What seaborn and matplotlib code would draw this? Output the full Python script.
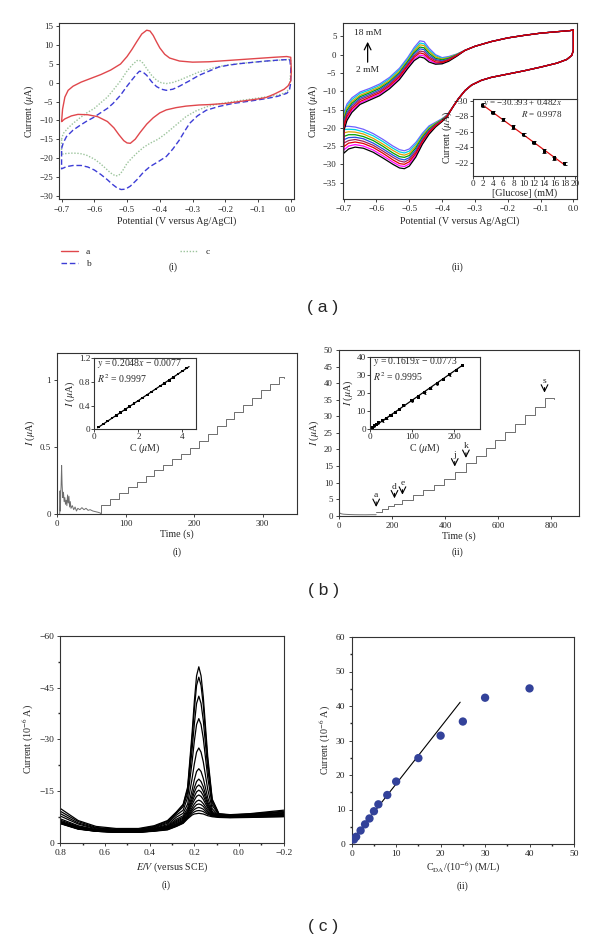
import numpy as np
import pandas as pd
import matplotlib
matplotlib.use("Agg")
import matplotlib.pyplot as plt
import seaborn as sns
from matplotlib.lines import Line2D
from matplotlib.ticker import MultipleLocator

# ---------------- (a)(i) cyclic voltammograms a, b, c ----------------
cv_a_x = [-0.700, -0.697, -0.690, -0.680, -0.665, -0.640, -0.610, -0.580, -0.550, -0.520, -0.500, -0.485,
          -0.470, -0.455, -0.440, -0.430, -0.420, -0.410, -0.400, -0.385, -0.370, -0.340, -0.300, -0.250,
          -0.200, -0.150, -0.100, -0.050, -0.012, 0.000, 0.002, 0.000, -0.008, -0.020, -0.050, -0.075,
          -0.100, -0.150, -0.200, -0.250, -0.280, -0.320, -0.350, -0.380, -0.400, -0.420, -0.440, -0.460,
          -0.475, -0.490, -0.500, -0.510, -0.525, -0.540, -0.560, -0.590, -0.620, -0.650, -0.670, -0.690, -0.700]
cv_a_y = [-10.3, -7.0, -3.8, -2.0, -0.9, 0.2, 1.2, 2.2, 3.4, 5.0, 7.0, 8.9,
          11.0, 13.0, 14.0, 13.8, 12.6, 10.9, 9.3, 7.6, 6.6, 5.8, 5.5, 5.6,
          5.9, 6.2, 6.5, 6.8, 7.0, 6.8, 3.0, 0.5, -0.8, -1.7, -3.0, -3.9,
          -4.3, -4.9, -5.5, -5.8, -5.9, -6.2, -6.6, -7.2, -8.0, -9.3, -11.0, -13.2,
          -15.0, -16.1, -16.0, -15.4, -13.8, -12.0, -10.3, -9.0, -8.5, -8.4, -8.8, -9.6, -10.3]

cv_b_x = [-0.700, -0.695, -0.685, -0.665, -0.645, -0.625, -0.600, -0.583, -0.560, -0.543, -0.520, -0.502,
          -0.485, -0.470, -0.462, -0.452, -0.440, -0.425, -0.410, -0.395, -0.380, -0.360, -0.340, -0.310,
          -0.280, -0.250, -0.220, -0.190, -0.156, -0.110, -0.075, -0.030, -0.003, 0.000, 0.000, -0.004,
          -0.012, -0.040, -0.075, -0.120, -0.177, -0.220, -0.258, -0.285, -0.309, -0.325, -0.340, -0.360,
          -0.380, -0.405, -0.430, -0.450, -0.470, -0.490, -0.505, -0.518, -0.530, -0.545, -0.560, -0.580,
          -0.600, -0.620, -0.640, -0.665, -0.685, -0.700, -0.700]
cv_b_y = [-17.5, -16.0, -14.3, -12.6, -11.4, -10.3, -9.1, -8.1, -6.8, -5.5, -3.3, -1.1,
          0.8, 2.4, 3.1, 2.9, 2.0, 0.3, -1.0, -1.7, -2.0, -1.7, -0.9, 0.5,
          2.0, 3.1, 4.2, 4.7, 5.1, 5.5, 5.8, 6.1, 6.2, 4.0, 0.0, -2.0,
          -2.8, -3.6, -4.2, -4.8, -5.5, -6.3, -7.3, -8.8, -10.8, -13.0, -15.2, -17.6,
          -19.6, -21.0, -22.3, -23.8, -25.8, -27.5, -28.3, -28.4, -28.0, -27.0, -25.8, -24.4,
          -23.2, -22.4, -22.0, -22.0, -22.3, -22.9, -17.5]

cv_c_x = [-0.700, -0.695, -0.680, -0.665, -0.645, -0.625, -0.600, -0.583, -0.560, -0.543, -0.520, -0.502,
          -0.485, -0.470, -0.462, -0.452, -0.440, -0.425, -0.410, -0.395, -0.380, -0.360, -0.340, -0.310,
          -0.280, -0.250, -0.227, -0.190, -0.150, -0.100, -0.050, -0.010, 0.000, 0.000, -0.004, -0.015,
          -0.040, -0.080, -0.120, -0.177, -0.220, -0.258, -0.290, -0.320, -0.350, -0.380, -0.405, -0.430,
          -0.450, -0.470, -0.485, -0.500, -0.515, -0.525, -0.535, -0.550, -0.565, -0.583, -0.600, -0.625,
          -0.645, -0.665, -0.685, -0.700, -0.700]
cv_c_y = [-15.0, -13.5, -12.0, -10.8, -9.4, -8.1, -6.8, -5.5, -3.8, -2.0, 0.5, 2.9,
          4.7, 5.9, 6.0, 5.3, 3.8, 2.0, 0.7, 0.0, -0.2, 0.1, 0.7, 1.8,
          2.9, 3.6, 4.2, 4.8, 5.2, 5.6, 5.9, 6.2, 6.2, 3.0, -1.5, -2.6,
          -3.3, -3.8, -4.3, -5.0, -5.6, -6.4, -7.5, -9.0, -11.2, -13.4, -15.0, -16.1,
          -17.2, -18.7, -20.0, -21.4, -23.6, -24.6, -24.8, -24.0, -22.8, -21.4, -20.3, -19.2,
          -18.8, -18.7, -18.8, -19.0, -15.0]
cv_labels = ["a", "b", "c"]

# ---------------- (a)(ii) CVs at glucose 2 ... 18 mM ----------------
glu_up_x = [-0.700, -0.690, -0.675, -0.650, -0.620, -0.590, -0.560, -0.530, -0.505, -0.485,
            -0.468, -0.455, -0.440, -0.420, -0.400, -0.380, -0.355]
glu_up_y = [
    [-21.0, -18.0, -15.8, -13.6, -12.4, -11.2, -9.3, -6.8, -3.8, -1.6, -0.6, -0.9, -2.0, -2.6, -2.5, -1.8, -0.4],
    [-20.4, -17.4, -15.3, -13.2, -12.0, -10.8, -8.9, -6.4, -3.4, -1.2, -0.1, -0.3, -1.5, -2.3, -2.3, -1.6, -0.3],
    [-19.8, -16.9, -14.8, -12.8, -11.6, -10.4, -8.5, -6.0, -3.0, -0.7, 0.5, 0.2, -1.0, -2.0, -2.1, -1.5, -0.2],
    [-19.1, -16.3, -14.3, -12.3, -11.2, -10.0, -8.1, -5.6, -2.7, -0.3, 1.0, 0.8, -0.6, -1.6, -1.9, -1.3, -0.2],
    [-18.5, -15.8, -13.8, -11.9, -10.8, -9.6, -7.7, -5.2, -2.3, 0.2, 1.6, 1.4, -0.1, -1.3, -1.7, -1.2, -0.1],
    [-17.9, -15.2, -13.3, -11.5, -10.4, -9.2, -7.4, -4.9, -1.9, 0.6, 2.1, 1.9, 0.4, -1.0, -1.4, -1.0, 0.0],
    [-17.3, -14.6, -12.8, -11.1, -10.0, -8.8, -7.0, -4.5, -1.6, 1.1, 2.7, 2.5, 0.9, -0.6, -1.2, -0.8, 0.1],
    [-16.6, -14.1, -12.3, -10.6, -9.6, -8.4, -6.6, -4.1, -1.2, 1.5, 3.2, 3.0, 1.3, -0.3, -1.0, -0.7, 0.1],
    [-16.0, -13.5, -11.8, -10.2, -9.2, -8.0, -6.2, -3.7, -0.8, 2.0, 3.8, 3.6, 1.8, 0.0, -0.8, -0.5, 0.2],
]
glu_tail_x = [-0.330, -0.300, -0.250, -0.200, -0.150, -0.100, -0.050, -0.010, 0.000]
glu_tail_y = [1.2, 2.3, 3.6, 4.6, 5.3, 5.9, 6.3, 6.6, 6.8]
glu_head_x = [0.000, 0.000, -0.005, -0.020, -0.050, -0.100, -0.150, -0.200, -0.250, -0.280, -0.310, -0.330, -0.350, -0.365]
glu_head_y = [4.0, 1.2, -0.2, -1.3, -2.3, -3.4, -4.4, -5.3, -6.2, -7.0, -8.3, -9.8, -12.0, -14.0]
glu_low_x = [-0.385, -0.400, -0.420, -0.440, -0.460, -0.480, -0.500, -0.515, -0.530, -0.550,
             -0.580, -0.610, -0.640, -0.665, -0.685, -0.700]
glu_low_y = [
    [-17.0, -18.3, -19.8, -21.8, -24.5, -28.0, -30.5, -31.2, -31.0, -30.0, -28.3, -26.7, -25.6, -25.3, -25.8, -27.0],
    [-16.9, -18.2, -19.6, -21.5, -24.1, -27.5, -29.9, -30.6, -30.4, -29.4, -27.7, -26.1, -25.0, -24.6, -25.0, -26.1],
    [-16.9, -18.1, -19.5, -21.2, -23.7, -27.0, -29.3, -30.0, -29.8, -28.8, -27.0, -25.4, -24.3, -23.9, -24.2, -25.2],
    [-16.8, -18.0, -19.3, -20.9, -23.4, -26.5, -28.7, -29.4, -29.1, -28.1, -26.4, -24.8, -23.7, -23.2, -23.5, -24.2],
    [-16.8, -17.9, -19.2, -20.7, -23.0, -26.0, -28.2, -28.8, -28.5, -27.5, -25.8, -24.2, -23.0, -22.6, -22.7, -23.3],
    [-16.7, -17.8, -19.0, -20.4, -22.6, -25.5, -27.6, -28.1, -27.9, -26.9, -25.1, -23.5, -22.4, -21.9, -21.9, -22.4],
    [-16.6, -17.7, -18.8, -20.1, -22.2, -25.0, -27.0, -27.5, -27.2, -26.2, -24.5, -22.9, -21.7, -21.2, -21.1, -21.4],
    [-16.6, -17.6, -18.7, -19.8, -21.9, -24.5, -26.4, -26.9, -26.6, -25.6, -23.8, -22.2, -21.1, -20.5, -20.4, -20.5],
    [-16.5, -17.5, -18.5, -19.5, -21.5, -24.0, -25.8, -26.3, -26.0, -25.0, -23.2, -21.6, -20.4, -19.8, -19.6, -19.6],
]
glu_conc_mM = [2, 4, 6, 8, 10, 12, 14, 16, 18]
glu_peak_current = [-29.4, -28.5, -27.6, -26.6, -25.6, -24.6, -23.5, -22.6, -21.9]
glu_peak_err = [0.25, 0.2, 0.2, 0.2, 0.2, 0.2, 0.25, 0.2, 0.2]
glu_fit_x = [2, 18]
glu_fit_y = [-29.43, -21.72]

# ---------------- (b)(i) amperometric response ----------------
b1_noise_t = [3.5, 4.0, 4.5, 5.0, 5.5, 6.3, 7.0, 8.0, 9.0, 10.0, 11.0, 12.0, 13.0, 14.0, 15.0, 16.0, 17.0,
              18.0, 19.0, 20.0, 22.0, 24.0, 26.0, 28.0, 30.0, 33.0, 36.0, 39.0, 42.0, 45.0, 48.0, 52.0,
              56.0, 60.0, 63.0]
b1_noise_i = [0.0, 0.17, 0.02, 0.15, 0.20, 0.36, 0.22, 0.12, 0.16, 0.09, 0.12, 0.07, 0.10, 0.06, 0.14, 0.08,
              0.13, 0.05, 0.09, 0.04, 0.06, 0.03, 0.05, 0.02, 0.04, 0.03, 0.045, 0.03, 0.04, 0.025, 0.03,
              0.02, 0.015, 0.01, 0.005]
b1_step_t = [63, 64, 77, 90, 103, 116, 129, 142, 155, 168, 181, 194, 207, 220, 233, 246, 259, 272, 285,
             298, 311, 324, 332]
b1_step_i = [0.005, 0.065, 0.110, 0.156, 0.197, 0.238, 0.280, 0.322, 0.364, 0.406, 0.448, 0.490, 0.543,
             0.597, 0.650, 0.705, 0.758, 0.810, 0.865, 0.920, 0.970, 1.020, 1.010]
b1_conc_uM = [0.2, 0.4, 0.6, 0.8, 1.0, 1.2, 1.4, 1.6, 1.8, 2.0, 2.2, 2.4, 2.6, 2.8, 3.0, 3.2, 3.4, 3.6, 3.8, 4.0, 4.2]
b1_cal_i = [0.04, 0.09, 0.14, 0.19, 0.235, 0.285, 0.335, 0.385, 0.43, 0.48, 0.53, 0.58, 0.63, 0.68, 0.73,
            0.78, 0.83, 0.88, 0.935, 0.985, 1.035]
b1_fit_x = [0.15, 4.3]
b1_fit_y = [0.025, 1.06]

# ---------------- (b)(ii) amperometric response ----------------
b2_pre_t = [0, 2, 5, 10, 18, 28, 40, 60, 80, 100, 120, 140]
b2_pre_i = [1.2, 0.9, 0.7, 0.55, 0.45, 0.4, 0.35, 0.3, 0.28, 0.27, 0.3, 0.3]
b2_step_t = [140, 163, 186, 209, 239, 278, 317, 357, 396, 436, 478, 515, 552, 589, 626, 663, 700, 737, 774, 810]
b2_step_i = [1.0, 1.9, 2.8, 3.6, 4.7, 6.2, 7.7, 9.4, 11.2, 13.2, 15.8, 18.0, 20.3, 22.8, 25.3, 27.8, 30.3,
             32.8, 35.5, 35.2]
b2_arrow_labels = ["a", "d", "e", "j", "k", "s"]
b2_arrow_steps = [0, 3, 4, 9, 10, 18]
b2_conc_uM = [5, 10, 15, 20, 30, 40, 50, 60, 70, 80, 100, 115, 130, 145, 160, 175, 190, 205, 220]
b2_cal_i = [1.0, 1.9, 2.8, 3.6, 4.7, 6.2, 7.7, 9.4, 11.2, 13.2, 15.8, 18.0, 20.3, 22.8, 25.3, 27.8, 30.3, 32.8, 35.5]
b2_fit_x = [0, 222]
b2_fit_y = [-0.08, 35.9]

# ---------------- (c)(i) DPV curves ----------------
dpv_e = [0.80, 0.72, 0.64, 0.55, 0.45, 0.38, 0.32, 0.28, 0.25, 0.23, 0.21, 0.20, 0.19, 0.18, 0.17,
         0.16, 0.14, 0.12, 0.09, 0.04, -0.05, -0.20]
dpv_i = [
    [-10.0, -6.5, -4.8, -4.2, -4.2, -5.0, -6.5, -9.0, -11.2, -16.2, -31.9, -41.0, -48.4, -51.0, -48.4, -42.3, -25.0, -12.7, -8.5, -8.2, -8.5, -9.5],
    [-9.2, -6.2, -4.5, -4.0, -4.0, -4.8, -6.3, -8.9, -11.0, -15.6, -30.2, -38.7, -45.6, -48.0, -45.6, -39.9, -23.7, -12.4, -8.4, -8.1, -8.4, -9.2],
    [-8.5, -5.8, -4.3, -3.9, -3.9, -4.6, -6.0, -8.6, -10.5, -14.5, -27.1, -34.4, -40.4, -42.5, -40.4, -35.5, -21.5, -11.7, -8.2, -8.0, -8.3, -9.0],
    [-7.8, -5.5, -4.1, -3.7, -3.7, -4.4, -5.7, -8.1, -9.5, -13.2, -23.5, -29.5, -34.3, -36.0, -34.3, -30.3, -18.9, -10.9, -8.1, -7.9, -8.2, -8.8],
    [-7.0, -5.0, -3.9, -3.6, -3.6, -4.2, -5.3, -7.5, -8.6, -11.3, -18.7, -22.9, -26.3, -27.5, -26.3, -23.5, -15.5, -9.9, -7.9, -7.8, -8.0, -8.6],
    [-6.6, -4.8, -3.8, -3.5, -3.5, -4.1, -5.0, -6.9, -7.9, -10.1, -15.3, -18.3, -20.7, -21.5, -20.7, -18.7, -13.1, -9.2, -7.8, -7.7, -7.9, -8.4],
    [-6.3, -4.6, -3.7, -3.4, -3.4, -4.0, -4.8, -6.5, -7.5, -9.4, -13.7, -16.0, -17.8, -18.5, -17.8, -16.3, -11.9, -8.8, -7.7, -7.6, -7.8, -8.3],
    [-6.1, -4.5, -3.6, -3.3, -3.3, -3.9, -4.6, -6.2, -7.2, -9.0, -12.7, -14.7, -16.2, -16.8, -16.2, -14.9, -11.2, -8.6, -7.7, -7.6, -7.8, -8.2],
    [-6.0, -4.4, -3.6, -3.3, -3.3, -3.8, -4.5, -5.9, -6.9, -8.6, -11.9, -13.5, -14.8, -15.3, -14.8, -13.7, -10.6, -8.4, -7.6, -7.5, -7.7, -8.1],
    [-5.9, -4.3, -3.5, -3.2, -3.2, -3.7, -4.3, -5.6, -6.6, -8.2, -11.1, -12.4, -13.5, -13.9, -13.5, -12.6, -10.1, -8.3, -7.6, -7.5, -7.7, -8.0],
    [-5.8, -4.2, -3.5, -3.2, -3.2, -3.6, -4.2, -5.4, -6.4, -7.9, -10.2, -11.3, -12.1, -12.4, -12.1, -11.4, -9.5, -8.1, -7.6, -7.5, -7.6, -7.9],
    [-5.8, -4.2, -3.5, -3.2, -3.2, -3.6, -4.1, -5.2, -6.2, -7.7, -9.6, -10.4, -11.1, -11.3, -11.1, -10.6, -9.0, -8.0, -7.6, -7.5, -7.6, -7.8],
    [-5.7, -4.1, -3.4, -3.1, -3.1, -3.5, -4.0, -5.0, -6.0, -7.4, -9.1, -9.7, -10.1, -10.3, -10.1, -9.8, -8.6, -7.9, -7.6, -7.5, -7.6, -7.8],
    [-5.7, -4.1, -3.4, -3.1, -3.1, -3.5, -3.9, -4.9, -5.8, -7.2, -8.6, -9.0, -9.3, -9.4, -9.3, -9.1, -8.3, -7.8, -7.5, -7.4, -7.5, -7.7],
    [-5.6, -4.0, -3.4, -3.1, -3.1, -3.4, -3.8, -4.8, -5.7, -7.0, -8.1, -8.4, -8.5, -8.6, -8.5, -8.4, -7.9, -7.6, -7.4, -7.3, -7.4, -7.6],
]

# ---------------- (c)(ii) calibration ----------------
da_conc = [0.5, 1, 2, 3, 4, 5, 6, 8, 10, 15, 20, 25, 30, 40]
da_current = [1.3, 2.1, 3.9, 5.7, 7.4, 9.5, 11.5, 14.2, 18.1, 24.9, 31.4, 35.5, 42.4, 45.1]
da_fit_x = [0.0, 24.4]
da_fit_y = [1.0, 41.1]

# =====================================================================
sns.set_theme(style="ticks")
plt.rcParams["font.family"] = ["Liberation Serif", "DejaVu Serif"]
plt.rcParams["mathtext.fontset"] = "stix"
plt.rcParams["axes.linewidth"] = 0.8
plt.rcParams["xtick.major.size"] = 2.5
plt.rcParams["ytick.major.size"] = 2.5
plt.rcParams["xtick.minor.size"] = 1.5
plt.rcParams["ytick.minor.size"] = 1.5
plt.rcParams["xtick.major.width"] = 0.6
plt.rcParams["ytick.major.width"] = 0.6
plt.rcParams["xtick.major.pad"] = 2
plt.rcParams["ytick.major.pad"] = 2
plt.rcParams["axes.labelpad"] = 2
plt.rcParams["axes.edgecolor"] = "#333333"

W, H = 600, 943
fig = plt.figure(figsize=(W / 100, H / 100), dpi=100)


def rect(l, t, r, b):
    return [l / W, 1 - b / H, (r - l) / W, (b - t) / H]


TICK = 6.3
LAB = 7.2


def style(ax, ts=TICK):
    ax.tick_params(labelsize=ts, colors="#222222")
    for s in ax.spines.values():
        s.set_color("#333333")


def line(ax, x, y, **kw):
    df = pd.DataFrame({"x": x, "y": y})
    sns.lineplot(data=df, x="x", y="y", sort=False, estimator=None, ax=ax, **kw)


MINUS = "\u2212"

# ---------- (a)(i)
ax = fig.add_axes(rect(59.3, 22.7, 294, 199.3))
line(ax, cv_c_x, cv_c_y, color="#9cc49c", lw=1.0, linestyle=(0, (1, 1.2)))
line(ax, cv_b_x, cv_b_y, color="#3d3dd6", lw=1.0, linestyle=(0, (4, 2)))
line(ax, cv_a_x, cv_a_y, color="#e0474c", lw=1.0)
ax.set_xlim(-0.707, 0.01)
ax.set_ylim(-31, 16)
ax.set_xticks(np.arange(-0.7, 0.01, 0.1))
ax.set_xticklabels([MINUS + "0.7", MINUS + "0.6", MINUS + "0.5", MINUS + "0.4", MINUS + "0.3",
                    MINUS + "0.2", MINUS + "0.1", "0.0"])
ax.set_yticks(np.arange(-30, 16, 5))
ax.set_xlabel("Potential (V versus Ag/AgCl)", fontsize=LAB)
ax.set_ylabel("Current ($\\mu$A)", fontsize=LAB)
style(ax)
handles = [Line2D([], [], color="#e0474c", lw=1.0),
           Line2D([], [], color="#3d3dd6", lw=1.0, linestyle=(0, (4, 2))),
           Line2D([], [], color="#9cc49c", lw=1.0, linestyle=(0, (1, 1.2)))]
fig.legend(handles, cv_labels, loc="upper left", bbox_to_anchor=(52 / W, 1 - 239 / H), ncol=2,
           frameon=False, fontsize=6.8, handlelength=1.9, columnspacing=9.5, labelspacing=0.35,
           handletextpad=0.8)
fig.text(173 / W, 1 - 267 / H, "(i)", ha="center", va="center", fontsize=7)

# ---------- (a)(ii)
ax = fig.add_axes(rect(342.7, 23.3, 577.3, 199))
glu_colors = ["black", "#ff00ff", "#e00000", "#a0205a", "#2050e0", "#00a000", "#e0a000", "#00d0e0", "#7060ff"]
for k in [8, 7, 6, 5, 4, 3, 1, 0, 2]:
    x = glu_up_x + glu_tail_x + glu_head_x + glu_low_x + [glu_up_x[0]]
    y = glu_up_y[k] + glu_tail_y + glu_head_y + glu_low_y[k] + [glu_up_y[k][0]]
    line(ax, x, y, color=glu_colors[k], lw=0.9)
ax.set_xlim(-0.703, 0.012)
ax.set_ylim(-39.5, 8.6)
ax.set_xticks(np.arange(-0.7, 0.01, 0.1))
ax.set_xticklabels([MINUS + "0.7", MINUS + "0.6", MINUS + "0.5", MINUS + "0.4", MINUS + "0.3",
                    MINUS + "0.2", MINUS + "0.1", "0.0"])
ax.set_yticks(np.arange(-35, 6, 5))
ax.set_xlabel("Potential (V versus Ag/AgCl)", fontsize=LAB)
ax.set_ylabel("Current ($\\mu$A)", fontsize=LAB)
style(ax)
ax.annotate("", xy=(-0.627, 4.3), xytext=(-0.627, -2.8),
            arrowprops=dict(arrowstyle="->", color="black", lw=0.9))
ax.text(-0.627, 6.0, "18 mM", ha="center", va="center", fontsize=6.8)
ax.text(-0.627, -4.2, "2 mM", ha="center", va="center", fontsize=6.8)
fig.text(457 / W, 1 - 267 / H, "(ii)", ha="center", va="center", fontsize=7)

axi = fig.add_axes(rect(472.5, 99, 576.5, 176))
axi.set_facecolor("white")
axi.errorbar(glu_conc_mM, glu_peak_current, yerr=glu_peak_err, fmt="none", ecolor="black",
             elinewidth=0.7, capsize=1.2, capthick=0.6, zorder=3)
sns.scatterplot(x=glu_conc_mM, y=glu_peak_current, ax=axi, color="black", s=6, marker="s",
                edgecolor="none", zorder=3)
line(axi, glu_fit_x, glu_fit_y, color="#e01010", lw=0.9)
axi.set_xlim(0, 20.3)
axi.set_ylim(-20.3, -30.2)
axi.set_xticks(np.arange(0, 21, 2))
axi.set_yticks([-30, -28, -26, -24, -22])
axi.set_yticklabels([MINUS + "30", MINUS + "28", MINUS + "26", MINUS + "24", MINUS + "22"])
axi.set_xlabel("[Glucose] (mM)", fontsize=LAB, labelpad=0)
axi.set_ylabel("Current ($\\mu$A)", fontsize=LAB, labelpad=0)
axi.tick_params(labelsize=6.6, length=2, pad=1)
axi.text(0.1, 0.95, "$y$ = \u221230.393 + 0.482$x$", transform=axi.transAxes, fontsize=6.5,
         ha="left", va="center")
axi.text(0.87, 0.81, "$R$ = 0.9978", transform=axi.transAxes, fontsize=6.5, ha="right", va="center")

# ---------- (b)(i)
ax = fig.add_axes(rect(57.3, 352.7, 296.7, 513.7))
line(ax, b1_noise_t, b1_noise_i, color="#6e6e6e", lw=0.7)
line(ax, b1_step_t, b1_step_i, color="#6e6e6e", lw=0.7, drawstyle="steps-post")
ax.set_xlim(0, 350)
ax.set_ylim(0, 1.2)
ax.set_xticks([0, 100, 200, 300])
ax.set_yticks([0, 0.5, 1])
ax.set_yticklabels(["0", "0.5", "1"])
ax.set_xlabel("Time (s)", fontsize=LAB, labelpad=1)
ax.set_ylabel("$I$ ($\\mu$A)", fontsize=LAB)
style(ax)
fig.text(177 / W, 1 - 552 / H, "(i)", ha="center", va="center", fontsize=7)

axi = fig.add_axes(rect(94.3, 358.3, 195.7, 429.3))
line(axi, b1_fit_x, b1_fit_y, color="black", lw=0.9)
sns.scatterplot(x=b1_conc_uM, y=b1_cal_i, ax=axi, color="black", s=4, marker="s", edgecolor="none")
axi.set_xlim(0, 4.6)
axi.set_ylim(0, 1.2)
axi.set_xticks([0, 2, 4])
axi.set_yticks([0, 0.4, 0.8, 1.2])
axi.set_yticklabels(["0", "0.4", "0.8", "1.2"])
axi.set_xlabel("C ($\\mu$M)", fontsize=LAB, labelpad=0)
axi.set_ylabel("$I$ ($\\mu$A)", fontsize=LAB, labelpad=1)
axi.tick_params(labelsize=6.6, length=2, pad=1)
axi.text(0.03, 0.93, "$y$ = 0.2048$x$ \u2212 0.0077", transform=axi.transAxes, fontsize=7,
         ha="left", va="center")
axi.text(0.03, 0.72, "$R^2$ = 0.9997", transform=axi.transAxes, fontsize=7, ha="left", va="center")

# ---------- (b)(ii)
ax = fig.add_axes(rect(339, 350, 579.3, 515.7))
line(ax, b2_pre_t, b2_pre_i, color="#6e6e6e", lw=0.7)
line(ax, b2_step_t, b2_step_i, color="#6e6e6e", lw=0.7, drawstyle="steps-post")
for lab, idx in zip(b2_arrow_labels, b2_arrow_steps):
    t0, lv = b2_step_t[idx], b2_step_i[idx]
    ax.annotate("", xy=(t0, lv + 0.8), xytext=(t0, lv + 4.0),
                arrowprops=dict(arrowstyle="->", color="black", lw=0.8))
    ax.text(t0, lv + 5.2, lab, ha="center", va="center", fontsize=6.8)
ax.set_xlim(0, 905)
ax.set_ylim(0, 50)
ax.set_xticks([0, 200, 400, 600, 800])
ax.set_yticks(np.arange(0, 51, 5))
ax.set_xlabel("Time (s)", fontsize=LAB, labelpad=1)
ax.set_ylabel("$I$ ($\\mu$A)", fontsize=LAB)
style(ax)
fig.text(457 / W, 1 - 552 / H, "(ii)", ha="center", va="center", fontsize=7)

axi = fig.add_axes(rect(370, 356.7, 480, 429.3))
line(axi, b2_fit_x, b2_fit_y, color="black", lw=0.9)
axi.errorbar(b2_conc_uM, b2_cal_i, yerr=0.5, fmt="none", ecolor="black", elinewidth=0.6,
             capsize=1.0, capthick=0.5)
sns.scatterplot(x=b2_conc_uM, y=b2_cal_i, ax=axi, color="black", s=5, marker="s", edgecolor="none")
axi.set_xlim(0, 262)
axi.set_ylim(0, 40.4)
axi.set_xticks([0, 100, 200])
axi.set_yticks([0, 10, 20, 30, 40])
axi.set_xlabel("C ($\\mu$M)", fontsize=LAB, labelpad=0)
axi.set_ylabel("$I$ ($\\mu$A)", fontsize=LAB, labelpad=1)
axi.tick_params(labelsize=6.6, length=2, pad=1)
axi.text(0.03, 0.93, "$y$ = 0.1619$x$ \u2212 0.0773", transform=axi.transAxes, fontsize=7,
         ha="left", va="center")
axi.text(0.03, 0.73, "$R^2$ = 0.9995", transform=axi.transAxes, fontsize=7, ha="left", va="center")

# ---------- (c)(i)
ax = fig.add_axes(rect(60.3, 635.7, 283.7, 843))
for row in dpv_i:
    line(ax, dpv_e, row, color="black", lw=0.9)
ax.set_xlim(0.8, -0.2)
ax.set_ylim(0, -60)
ax.set_xticks([0.8, 0.6, 0.4, 0.2, 0.0, -0.2])
ax.set_xticklabels(["0.8", "0.6", "0.4", "0.2", "0.0", MINUS + "0.2"])
ax.xaxis.set_minor_locator(MultipleLocator(0.1))
ax.set_yticks([0, -15, -30, -45, -60])
ax.set_yticklabels(["0", MINUS + "15", MINUS + "30", MINUS + "45", MINUS + "60"])
ax.yaxis.set_minor_locator(MultipleLocator(7.5))
ax.tick_params(which="minor", direction="out")
ax.set_xlabel("$E/V$ (versus SCE)", fontsize=LAB, labelpad=2)
ax.set_ylabel("Current (10$^{-6}$ A)", fontsize=LAB)
style(ax, 6.8)
fig.text(166 / W, 1 - 885 / H, "(i)", ha="center", va="center", fontsize=7)

# ---------- (c)(ii)
ax = fig.add_axes(rect(351.7, 637, 574, 844))
line(ax, da_fit_x, da_fit_y, color="black", lw=0.8)
sns.scatterplot(x=da_conc, y=da_current, ax=ax, color="#33429a", s=36, edgecolor="none", zorder=3)
ax.set_xlim(0, 50)
ax.set_ylim(0, 60)
ax.set_xticks(np.arange(0, 51, 10))
ax.set_yticks(np.arange(0, 61, 10))
ax.xaxis.set_minor_locator(MultipleLocator(5))
ax.yaxis.set_minor_locator(MultipleLocator(5))
ax.set_xlabel("C$_{\\rm DA}$/(10$^{-6}$) (M/L)", fontsize=LAB, labelpad=1)
ax.set_ylabel("Current (10$^{-6}$ A)", fontsize=LAB)
style(ax, 6.8)
fig.text(463 / W, 1 - 886 / H, "(ii)", ha="center", va="center", fontsize=7)

# ---------- panel letters
for lab, yy in [("( a )", 308), ("( b )", 590), ("( c )", 927)]:
    fig.text(323 / W, 1 - yy / H, lab, ha="center", va="center", fontsize=12.5,
             family=["Liberation Sans", "DejaVu Sans"])

fig.savefig("out.png", dpi=100)
